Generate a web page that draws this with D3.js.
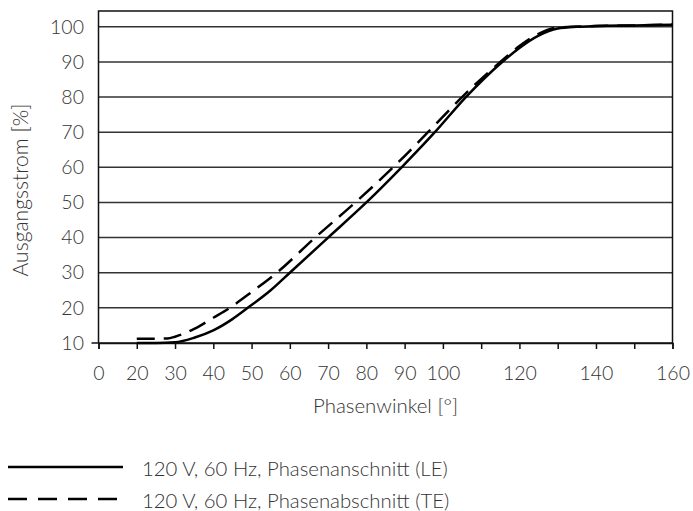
<!DOCTYPE html>
<html><head><meta charset="utf-8">
<script src="https://cdn.jsdelivr.net/npm/d3@7"></script>
<style>
body{margin:0;background:#fff;}
svg text{font-family:Lato,"Open Sans",sans-serif;font-weight:300;fill:#333;}
</style></head>
<body><svg id="c" width="693" height="511"></svg>
<script>
// Data
const leX = [20,25,30,35,40,45,49,55,60,70,80,89.2,97.9,106,115.5,120,125,130,135,140,150,160];
const leY = [10,10,10.2,11.5,13.6,16.8,20,25,30,40,50,60,70,80,90,94,97.5,99.5,100,100.2,100.4,100.6];
const teX = [20,25,28,30,35,40,44.3,50,56.6,66.6,77.1,87,96.1,105,115,120,125,130,140,150,160];
const teY = [11.2,11.2,11.3,11.8,14,17.2,20,24.5,30,40,50,60,70,80,90,94.5,98,99.8,100.2,100.4,100.7];
const xTicks = [10,20,30,40,50,60,70,80,90,100,110,120,130,140,150,160];
const xTickLabels = ["0","20","30","40","50","60","70","80","90","100","","120","","140","","160"];
const yTicks = [10,20,30,40,50,60,70,80,90,100];
const seriesNames = ["120 V, 60 Hz, Phasenanschnitt (LE)","120 V, 60 Hz, Phasenabschnitt (TE)"];
const xTitle = "Phasenwinkel [°]";
const yTitle = "Ausgangsstrom [%]";

const svg = d3.select("#c");
const L=98.5, R=672.5, T=11, B=343;
const x = d3.scaleLinear().domain([10,160]).range([L,R]);
const y = d3.scaleLinear().domain([10,104.5]).range([B,T]);

function fitWidth(sel, target){
  const n = sel.node(); const w = n.getComputedTextLength();
  const fs = parseFloat(sel.attr("font-size"));
  if (w>0) sel.attr("font-size", fs*target/w);
  return parseFloat(sel.attr("font-size"));
}

// grid
svg.append("g").selectAll("line").data(yTicks.slice(1)).join("line")
  .attr("x1",L).attr("x2",R).attr("y1",d=>y(d)).attr("y2",d=>y(d))
  .attr("stroke","#333").attr("stroke-width",1.5);
// frame
svg.append("path").attr("d",`M${L},${B}V${T}H${R}V${B}`).attr("fill","none").attr("stroke","#111").attr("stroke-width",1.5);

// y axis
const ya = svg.append("g").attr("transform",`translate(${L},0)`)
  .call(d3.axisLeft(y).tickValues(yTicks).tickSize(0).tickPadding(14.5));
ya.select(".domain").remove();
ya.selectAll("text").attr("font-size",17).attr("fill","#333");
const t100 = ya.selectAll("text").filter(d=>d===100);
const tickFs = fitWidth(t100, 34);
ya.selectAll("text").attr("font-size",tickFs);
svg.append("line").attr("x1",L-7).attr("x2",R).attr("y1",y(10)).attr("y2",y(10)).attr("stroke","#111").attr("stroke-width",1.5);

// x axis
const xa = svg.append("g").attr("transform",`translate(0,${B})`)
  .call(d3.axisBottom(x).tickValues(xTicks).tickSize(6).tickPadding(10)
    .tickFormat((d,i)=>xTickLabels[i]));
xa.select(".domain").attr("stroke","#111").attr("stroke-width",1.5);
xa.selectAll(".tick line").attr("stroke","#111").attr("stroke-width",1.5);
xa.selectAll("text").attr("font-size",tickFs).attr("fill","#333").attr("dy",null).attr("y",null)
  .attr("transform","translate(0,37)");

// titles
const xt = svg.append("text").attr("x",(L+R)/2).attr("y",413).attr("text-anchor","middle").attr("font-size",15).text(xTitle);
fitWidth(xt,145);
const yt = svg.append("text").attr("transform",`translate(28,190) rotate(-90)`).attr("text-anchor","middle").attr("font-size",15).text(yTitle);
fitWidth(yt,173);

// lines
const line = d3.line().x(d=>x(d[0])).y(d=>y(d[1])).curve(d3.curveMonotoneX);
svg.append("path").datum(leX.map((v,i)=>[v,leY[i]])).attr("d",line)
  .attr("fill","none").attr("stroke","#000").attr("stroke-width",2.5);
svg.append("path").datum(teX.map((v,i)=>[v,teY[i]])).attr("d",line)
  .attr("fill","none").attr("stroke","#000").attr("stroke-width",2.5).attr("stroke-dasharray","18,9");

// legend
const lg = svg.append("g");
let legFs = 16;
[0,1].forEach(i=>{
  const yy = 467 + i*32;
  lg.append("line").attr("x1",8).attr("x2",123).attr("y1",yy).attr("y2",yy)
    .attr("stroke","#000").attr("stroke-width",2.6).attr("stroke-dasharray", i? "19,11":null);
  const t = lg.append("text").attr("x",142).attr("y",yy+2).attr("dy","0.35em").attr("font-size",legFs).text(seriesNames[i]);
  if(i===0) legFs = fitWidth(t,306); else t.attr("font-size",legFs);
});
</script></body></html>
